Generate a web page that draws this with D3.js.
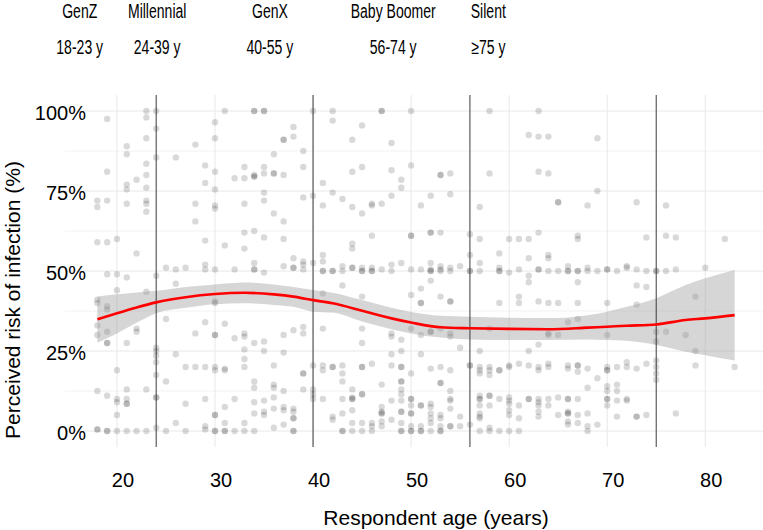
<!DOCTYPE html>
<html>
<head>
<meta charset="utf-8">
<script src="https://cdn.jsdelivr.net/npm/d3@7"></script>
<style>
html,body{margin:0;padding:0;background:#fff;}
svg{display:block;font-family:"Liberation Sans",Arial,Helvetica,sans-serif;}
</style>
</head>
<body>
<svg id="chart" width="763" height="530"></svg>
<script>
// ---------- data ----------
const genNames  = ["GenZ", "Millennial", "GenX", "Baby Boomer", "Silent"];
const genRanges = ["18-23 y", "24-39 y", "40-55 y", "56-74 y", "\u226575 y"];
const genStart  = [18, 24, 40, 56, 75];
const genEnd    = [24, 40, 56, 75, 83];

const xTicks = [20, 30, 40, 50, 60, 70, 80];
const yTicks = [0, 25, 50, 75, 100];
const yMinorTicks = [12.5, 37.5, 62.5, 87.5];

// respondents: age and perceived risk (%)
const pointAges = [18,19,20,21,22,23,24,25,26,27,28,29,30,31,32,33,34,35,36,37,38,39,40,41,42,43,44,45,46,47,48,49,50,
  51,52,53,54,55,56,57,58,59,60,61,62,63,64,65,66,67,68,69,70,71,72,73,74,75,76,77,78,79,80,82,83];
const pointRisks = [
  [72,70,59,41,40,33,30,12.5,0.5,0.5],
  [97.5,81,72,59,49,39,38,31,27.5,27.5,11,0,0],
  [60,49,44,19,10,9,5,0],
  [89,86.5,77,75.5,71,48,27.5,13,10,8.5,8.5,0],
  [78.5,55.5,32,31,0],
  [100,98,91.5,83.5,80,76,72,71,68.5,43.5,13,0],
  [100,94.5,85.5,48.5,26,25,23.5,21.5,17.5,10.5,10.5,1],
  [51,35,15.5,0],
  [85.5,50.5,46,24,2.5],
  [51,20,8.5,0],
  [89.5,71,65.5,30.5,20],
  [83,77.5,59.5,52,50.5,34,20,10,1.5,0.5],
  [96.5,91.5,81,75.5,70.5,69.5,50.5,40.5,40,30,30,20,19,5,5,0,0],
  [100,58,33.5,19.5,19,7.5,2.5,0,0],
  [79,50.5,29,10,0],
  [82.5,79,71,62,57,30.5,29.5,25.5,22.5,20,2.5,0],
  [100,100,80,79.5,79.5,62.5,52.5,50.5,50.5,27.5,15.5,13.5,9,5.5,0],
  [100,100,82.5,80.5,74.5,72,60.5,49.5,28,25,9.5,6,5],
  [86.5,80.5,80.5,68,20.5,14.5,13.5,10.5,7,1],
  [91,91,80,65.5,60,51.5,30,24.5,12.5,7.5,6.5,2],
  [95,92,54,51,51,31.5,7,6,4,4,0,0],
  [87.5,82.5,73,53,52,50.5,32.5,30.5,18,18,13],
  [100,73.5,52.5,20.5,13,11.5,10],
  [77.5,70.5,55,53,50,50,43,32,20.5,19,10],
  [100,97,74.5,50,50,20,20,4.5,3.5],
  [72.5,51.5,50,45.5,20.5,18,15.5,10,5.5,0,0],
  [91,81,70,58.5,57,51,51,13,10.5,10,10,6.5,2.5,0],
  [95.5,82.5,68,51,50,50,42,32,27.5,20,20,11.5,11.5,2.5,0],
  [71,70.5,61,51,50,50,21,2.5,1.5,0],
  [100,100,71,50.5,14.5,7.5,6,5.5,5.5,3,1.5],
  [90,81.5,73.5,52,50,30.5,29.5,24,20.5,9.5,3.5],
  [78.5,76,52.5,28.5,25,20,20,15.5,15.5,13,11.5,9.5,6,6,2.5,0,0],
  [100,83,61,61,50.5,42.5,32,18,10,10,8,5.5,5.5,1.5,0,0],
  [70.5,50.5,44.5,40,40,30,24,8,8,1.5,0,0],
  [73.5,62,62,52.5,50.5,50,50,47,31,31,19.5,8.5,7.5,5.5,4,2.5,0],
  [80,80,62,51.5,50.5,50,42,32,20,15,15,5,4,1.5,0,0],
  [80.5,74,51,50,40.5,40.5,30.5,29.5,19,12.5,10,9.5,7,1.5,1.5],
  [51.5,26,4.5,1.5],
  [61.5,55,50,50,20.5,20.5,2],
  [70,60,52.5,50,25,20,19,18,11,10,10,8,5.5,4.5,4,0],
  [100,80.5,32,20,19,17.5,11,11,8,1,0],
  [55.5,51,50,50,40,19,19,10,0],
  [60,49.5,20.5,20,10.5,9.5,8.5,6.5,5,0],
  [60,50.5,42,40,21,8,4,0],
  [92.5,60,54,48.5,46.5,25,20.5,10,10],
  [100,92,81,62,50.5,50.5,40.5,27,20,19,10,9,8,6,4.5],
  [92,80.5,55,54,50,40,30.5,30,21,20,10,8],
  [71.5,71.5,50,40,30,10.5,5],
  [51.5,50,50,34,20.5,19.5,10,10,6,5.5,5.5,3,2],
  [61,60,50,50,46.5,40,35,20.5,20.5,18.5,10,5,2.5],
  [70.5,51,50,19.5,13.5,5.5,1.5,0],
  [91.5,75,50,16.5,2],
  [50.5,50.5,40,30,20,19,19,14,12.5,10,10,8],
  [50,20,14.5,12.5,9.5,4.5],
  [51.5,51,21.5,20,10,9.5],
  [71.5,50.5,45.5,39.5,19.5,4.5,4.5],
  [60.5,50,45,21,5],
  [50,50,31,28,22,20,18,16],
  [70.5,61,50,31],
  [60.5,50.5,5.5],
  [30],
  [42,25,20.5],
  [51],
  [60],
  [20]
];

// loess smooth with confidence band (%)
const smoothAge  = [18,20,22,24,27,30,33,36,38,40,42,45,48,50,53,56,60,64,68,70,72,75,78,80,83];
const smoothFit  = [34.9,36.8,38.6,40.2,41.8,42.8,43.2,42.7,42.0,40.9,39.9,37.6,35.2,33.9,32.4,32.1,31.9,31.8,32.3,32.6,32.9,33.3,34.7,35.2,36.2];
const smoothHigh = [42.0,42.7,43.3,43.8,45.0,45.8,46.4,45.8,45.0,44.1,43.2,40.9,38.5,37.2,36.0,35.7,35.4,35.3,36.2,37.3,38.8,41.5,45.6,47.7,50.3];
const smoothLow  = [27.6,30.5,33.8,36.8,38.5,39.6,39.9,39.4,38.8,37.3,37.0,34.2,31.8,30.5,29.2,28.6,28.4,28.4,28.6,28.4,28.2,26.9,24.8,23.7,22.0];

// ---------- layout ----------
const svg = d3.select("#chart");
const W = 763, H = 530;
const panel = {left: 65, right: 767, top: 95, bottom: 447};

const x = d3.scaleLinear().domain([14.7, 86.3]).range([panel.left, panel.right]);
const y = d3.scaleLinear().domain([-5, 105]).range([panel.bottom, panel.top]);
const hx = d3.scaleLinear().domain([21, 79]).range([79.7, 488.3]); // header strip scale

// grid
const grid = svg.append("g");
grid.selectAll(".ymin").data(yMinorTicks).join("line")
  .attr("x1", panel.left).attr("x2", W)
  .attr("y1", d => y(d)).attr("y2", d => y(d))
  .attr("stroke", "#efefef").attr("stroke-width", 0.8);
grid.selectAll(".ymaj").data(yTicks).join("line")
  .attr("x1", panel.left).attr("x2", W)
  .attr("y1", d => y(d)).attr("y2", d => y(d))
  .attr("stroke", "#e8e8e8").attr("stroke-width", 1);
grid.selectAll(".xmaj").data(xTicks).join("line")
  .attr("x1", d => x(d)).attr("x2", d => x(d))
  .attr("y1", panel.top).attr("y2", panel.bottom)
  .attr("stroke", "#e8e8e8").attr("stroke-width", 1);

// points
const pts = [];
pointAges.forEach((a, i) => pointRisks[i].forEach(v => pts.push({a, v})));
svg.append("g").selectAll("circle").data(pts).join("circle")
  .attr("cx", d => x(d.a)).attr("cy", d => y(d.v)).attr("r", 3.2)
  .attr("fill", "#000").attr("fill-opacity", 0.15);

// band + line
const sm = smoothAge.map((a, i) => ({a, f: smoothFit[i], lo: smoothLow[i], hi: smoothHigh[i]}));
svg.append("path").datum(sm)
  .attr("d", d3.area().curve(d3.curveMonotoneX).x(d => x(d.a)).y0(d => y(d.lo)).y1(d => y(d.hi)))
  .attr("fill", "#999").attr("fill-opacity", 0.4);

// generation boundaries
svg.append("g").selectAll("line").data(genStart.slice(1)).join("line")
  .attr("x1", d => x(d)).attr("x2", d => x(d))
  .attr("y1", panel.top).attr("y2", panel.bottom)
  .attr("stroke", "#3a3a3a").attr("stroke-width", 1);

svg.append("path").datum(sm)
  .attr("d", d3.line().curve(d3.curveMonotoneX).x(d => x(d.a)).y(d => y(d.f)))
  .attr("fill", "none").attr("stroke", "#ff0000").attr("stroke-width", 2.6);

// axes labels
svg.append("g").selectAll("text").data(xTicks).join("text")
  .attr("x", d => x(d) + 6).attr("y", 486.5)
  .attr("text-anchor", "middle").attr("font-size", 20).attr("fill", "#000")
  .text(d => d);
svg.append("g").selectAll("text").data(yTicks).join("text")
  .attr("x", 86).attr("y", d => y(d) + 8.5)
  .attr("text-anchor", "end").attr("font-size", 20).attr("fill", "#000")
  .text(d => d + "%");

svg.append("text").attr("x", 436).attr("y", 525)
  .attr("text-anchor", "middle").attr("font-size", 21).attr("fill", "#000")
  .text("Respondent age (years)");
svg.append("text").attr("transform", "translate(19.5,300) rotate(-90)")
  .attr("text-anchor", "middle").attr("font-size", 21).attr("fill", "#000")
  .text("Perceived risk of infection (%)");

// header
const mids = genStart.map((s, i) => (s + genEnd[i]) / 2);
const head = svg.append("g");
head.selectAll(".gn").data(genNames).join("text")
  .attr("transform", (d, i) => `translate(${hx(mids[i])},18) scale(0.72,1)`)
  .attr("text-anchor", "middle").attr("font-size", 19.5).attr("fill", "#000")
  .text(d => d);
head.selectAll(".gr").data(genRanges).join("text")
  .attr("transform", (d, i) => `translate(${hx(mids[i])},54) scale(0.72,1)`)
  .attr("text-anchor", "middle").attr("font-size", 19.5).attr("fill", "#000")
  .text(d => d);
</script>
</body>
</html>
